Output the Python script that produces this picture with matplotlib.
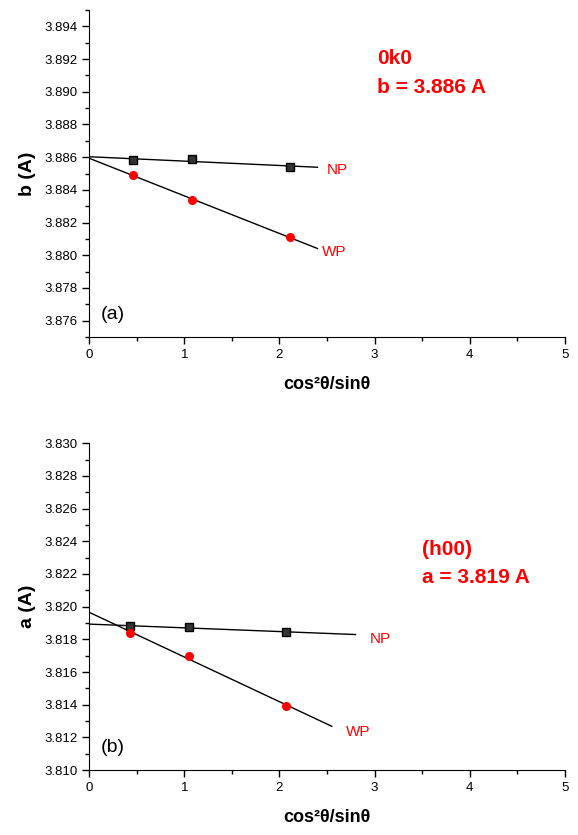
import numpy as np
import matplotlib
matplotlib.use("Agg")
import matplotlib.pyplot as plt
from matplotlib.ticker import MultipleLocator

plt.rcParams['font.family'] = ['Liberation Sans', 'DejaVu Sans']

# --- data ---
# (a) 0k0 reflections
x_a = [0.465, 1.08, 2.11]
np_a = [3.8858, 3.8859, 3.8854]
wp_a = [3.8849, 3.8834, 3.8811]
fit_end_a = [2.4, 2.4]          # NP, WP line ends

# (b) h00 reflections
x_b = [0.43, 1.05, 2.07]
np_b = [3.8188, 3.81875, 3.81844]
wp_b = [3.81838, 3.81695, 3.81393]
fit_end_b = [2.8, 2.55]

fig = plt.figure(figsize=(5.78, 8.35), dpi=100)
ax1 = fig.add_axes([0.154, 0.5964, 0.8235, 0.3916])
ax2 = fig.add_axes([0.154, 0.0778, 0.8235, 0.3913])

red = '#ff0000'


def panel(ax, x, y_np, y_wp, ends, ylim, ylabel, tag, title, value, txt_pos, np_pos, wp_pos):
    # linear fits, extrapolated to x = 0
    for y, end in zip([y_np, y_wp], ends):
        k, b = np.polyfit(x, y, 1)
        xx = np.array([0, end])
        ax.plot(xx, k * xx + b, color='black', lw=1)
    ax.plot(x, y_np, 's', ms=5.5, mfc='#333333', mec='black', mew=1)
    ax.plot(x, y_wp, 'o', ms=5.5, color=red)

    ax.set_xlim(0, 5)
    ax.set_ylim(*ylim)
    ax.xaxis.set_major_locator(MultipleLocator(1))
    ax.xaxis.set_minor_locator(MultipleLocator(0.5))
    ax.set_yticks(np.arange(ylim[0] + (0.001 if tag == '(a)' else 0), ylim[1] + 1e-9, 0.002))
    ax.yaxis.set_minor_locator(MultipleLocator(0.001))
    ax.yaxis.set_major_formatter(matplotlib.ticker.FormatStrFormatter('%.3f'))
    for s in ['top', 'right']:
        ax.spines[s].set_visible(False)
    ax.tick_params(which='both', direction='out', labelsize=9.5, width=1)
    ax.tick_params(which='major', length=5)
    ax.tick_params(which='minor', length=3)
    ax.set_xlabel('cos²θ/sinθ', fontsize=13, fontweight='bold', labelpad=11)
    ax.set_ylabel(ylabel, fontsize=14, fontweight='bold', labelpad=6)

    ax.text(0.024, 0.07, tag, transform=ax.transAxes, fontsize=14, va='center')
    ax.text(txt_pos[0], txt_pos[1], title, transform=ax.transAxes, fontsize=15,
            fontweight='bold', color=red, va='center')
    ax.text(txt_pos[0], txt_pos[1] - 0.088, value, transform=ax.transAxes, fontsize=15,
            fontweight='bold', color=red, va='center')
    ax.text(np_pos[0], np_pos[1], 'NP', color=red, fontsize=11, va='center')
    ax.text(wp_pos[0], wp_pos[1], 'WP', color=red, fontsize=11, va='center')


panel(ax1, x_a, np_a, wp_a, fit_end_a, (3.875, 3.895), 'b (A)', '(a)', '0k0', 'b = 3.886 A',
      (0.606, 0.851), (2.5, 3.8852), (2.45, 3.8802))
panel(ax2, x_b, np_b, wp_b, fit_end_b, (3.810, 3.830), 'a (A)', '(b)', '(h00)', 'a = 3.819 A',
      (0.7, 0.676), (2.95, 3.8180), (2.7, 3.8123))

fig.savefig('out.png', dpi=100)
